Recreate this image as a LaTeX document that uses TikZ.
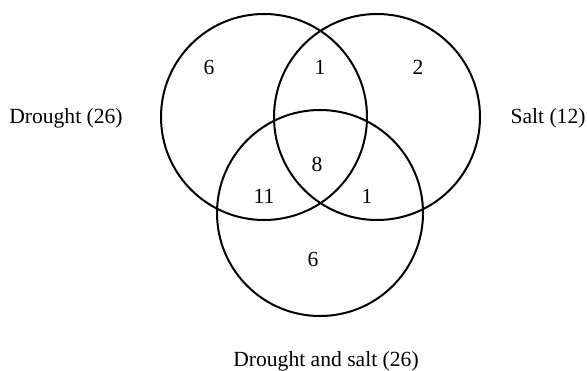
\documentclass[tikz,border=0pt]{standalone}
\usepackage{fontspec}
\setmainfont{Liberation Serif}

\begin{document}
\begin{tikzpicture}[x=0.5pt, y=-0.5pt]

  \useasboundingbox (0,0) rectangle (587,370);

  \tikzset{set/.style={draw, line width=1pt},
           lbl/.style={font=\fontsize{10.8}{13}\selectfont, inner sep=0pt}}

  %% Set circles
  \coordinate (cD)  at (264,117);
  \coordinate (cS)  at (377,117);
  \coordinate (cDS) at (320,213);
  \draw[set] (cD)  circle[radius=51.5pt];
  \draw[set] (cS)  circle[radius=51.5pt];
  \draw[set] (cDS) circle[radius=51.5pt];

  %% Set names
  \node[lbl] (drought) at (66,118)  {Drought (26)};
  \node[lbl] (salt)    at (548,118) {Salt (12)};
  \node[lbl] (both)    at (326,361) {Drought and salt (26)};

  %% Region counts
  \node[lbl] (onlyD)  at (209,67)  {6};
  \node[lbl] (DxS)    at (320,67)  {1};
  \node[lbl] (onlyS)  at (418,67)  {2};
  \node[lbl] (all)    at (317,164) {8};
  \node[lbl] (DxDS)   at (264,196) {11};
  \node[lbl] (SxDS)   at (367,196) {1};
  \node[lbl] (onlyDS) at (313,259) {6};

\end{tikzpicture}
\end{document}
